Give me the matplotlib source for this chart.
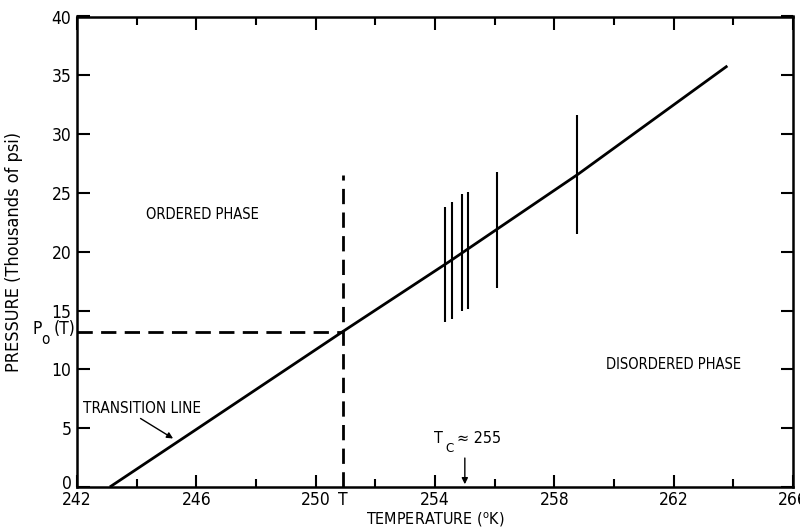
import matplotlib
matplotlib.use("Agg")
import matplotlib.pyplot as plt
from matplotlib.transforms import ScaledTranslation

# ---- data ----
line_T = [243.1, 246.0, 250.9, 254.5, 258.8, 263.8]
line_P = [0.0, 4.9, 13.2, 19.2, 26.6, 35.8]

bar_T = [254.35, 254.58, 254.92, 255.09, 256.09, 258.75]
bar_low = [14.0, 14.3, 15.0, 15.1, 16.9, 21.5]
bar_high = [23.8, 24.2, 24.9, 25.1, 26.8, 31.6]

T_mark = 250.9
P_mark = 13.2
T_dash_top = 26.5
Tc = 255.0

x_major = [242, 246, 250, 254, 258, 262, 266]
x_minor = [244, 248, 252, 256, 260, 264]
y_ticks = [0, 5, 10, 15, 20, 25, 30, 35, 40]

plt.rcParams['font.family'] = ['DejaVu Sans']
plt.rcParams['font.stretch'] = 'condensed'

fig = plt.figure(figsize=(8, 5.29), dpi=100)
ax = fig.add_axes([77/800, 42/529, 716/800, 470.5/529])

ax.plot(line_T, line_P, color='black', lw=2.0, solid_capstyle='butt')
ax.vlines(bar_T, bar_low, bar_high, color='black', lw=1.5)
ax.plot([242, T_mark], [P_mark, P_mark], color='black', lw=2.0, dashes=(5.5, 3))
ax.plot([T_mark, T_mark], [0, T_dash_top], color='black', lw=2.0, dashes=(5.5, 3))

ax.set_xlim(242, 266)
ax.set_ylim(0, 40)
ax.set_xticks(x_major + [T_mark])
ax.set_xticklabels([str(v) for v in x_major] + ['T'])
ax.set_xticks(x_minor, minor=True)
ax.set_yticks(y_ticks)
ax.set_yticklabels([str(v) for v in y_ticks])

ax.tick_params(which='both', direction='in', top=True, right=True, width=1.5, labelsize=12.5)
ax.tick_params(axis='x', pad=3)
ax.tick_params(axis='y', pad=4)
ax.tick_params(which='major', length=9)
ax.tick_params(which='minor', length=6)
for t in ax.xaxis.get_major_ticks():
    if abs(t.get_loc() - T_mark) < 1e-6:
        t.tick1line.set_visible(False)
        t.tick2line.set_visible(False)
lbl0 = ax.get_yticklabels()[0]
lbl0.set_transform(lbl0.get_transform() + ScaledTranslation(0, 5/100, fig.dpi_scale_trans))
for s in ax.spines.values():
    s.set_linewidth(1.8)

ax.set_xlabel('TEMPERATURE ($^{\\mathrm{o}}$K)', fontsize=11.5, va='center')
ax.xaxis.set_label_coords(0.5, -(33/470.5))
fig.text(14/800, 1 - 252/529, 'PRESSURE (Thousands of psi)', rotation=90,
         fontsize=13, va='center', ha='center')

ax.text(244.3, 23.2, 'ORDERED PHASE', fontsize=10.5, va='center', ha='left')
ax.text(262.0, 10.4, 'DISORDERED PHASE', fontsize=10.5, va='center', ha='center')
ax.text(242.2, 6.7, 'TRANSITION LINE', fontsize=11, va='center', ha='left')
ax.annotate('', xy=(245.3, 4.0), xytext=(244.05, 5.95),
            arrowprops=dict(arrowstyle='-|>', color='black', lw=1.0, mutation_scale=9))
ax.text(253.95, 4.1, 'T', fontsize=11.5, va='center', ha='left')
ax.text(254.35, 3.3, 'C', fontsize=9.5, va='center', ha='left')
ax.text(254.75, 4.1, '\u2248 255', fontsize=11.5, va='center', ha='left')
ax.annotate('', xy=(Tc, 0.0), xytext=(Tc, 2.7),
            arrowprops=dict(arrowstyle='-|>', color='black', lw=1.0, mutation_scale=9))
fig.text(32/800, 1 - 329/529, 'P', fontsize=12.5, va='center', ha='left')
fig.text(41/800, 1 - 339/529, 'o', fontsize=11, va='center', ha='left')
fig.text(54/800, 1 - 329/529, '(T)', fontsize=12.5, va='center', ha='left')

fig.savefig('out.png', dpi=100)
